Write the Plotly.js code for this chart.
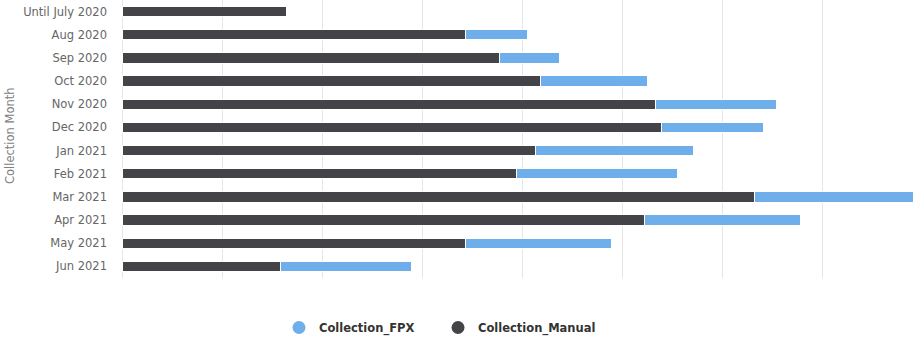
<!DOCTYPE html>
<html>
<head>
<meta charset="utf-8">
<script src="https://cdn.plot.ly/plotly-3.0.1.min.js"></script>
<style>
  html, body { margin: 0; padding: 0; background: #fff; }
  #chart { width: 920px; height: 338px; }
</style>
</head>
<body>
<div id="chart"></div>
<script>
// Monthly collections, split by channel
const months = [
  'Until July 2020', 'Aug 2020', 'Sep 2020', 'Oct 2020', 'Nov 2020', 'Dec 2020',
  'Jan 2021', 'Feb 2021', 'Mar 2021', 'Apr 2021', 'May 2021', 'Jun 2021'
];
const collectionManual = [164, 343, 377, 418, 533, 539, 413, 394, 632, 522, 343, 158];
const collectionFPX    = [0,   62,  60,  107, 121, 102, 158, 161, 159, 156, 146, 131];

const seriesNames = ['Collection_FPX', 'Collection_Manual'];
const colorFPX = '#6eaeea';
const colorManual = '#434348';

const labelFont = '"DejaVu Sans", Verdana, sans-serif';
const barLine = { color: '#ffffff', width: 1 };

const traces = [
  {
    type: 'bar', orientation: 'h', name: seriesNames[1],
    y: months, x: collectionManual,
    marker: { color: colorManual, line: barLine },
    showlegend: false, hoverinfo: 'x+name'
  },
  {
    type: 'bar', orientation: 'h', name: seriesNames[0],
    y: months, x: collectionFPX,
    marker: { color: colorFPX, line: barLine },
    showlegend: false, hoverinfo: 'x+name'
  },
  // round legend markers
  {
    type: 'scatter', mode: 'markers', name: seriesNames[0],
    x: [null], y: [null],
    marker: { color: colorFPX, size: 13, symbol: 'circle' }
  },
  {
    type: 'scatter', mode: 'markers', name: seriesNames[1],
    x: [null], y: [null],
    marker: { color: colorManual, size: 13, symbol: 'circle' }
  }
];

const layout = {
  width: 920,
  height: 338,
  margin: { l: 122, r: 0, t: 0, b: 60, autoexpand: false },
  paper_bgcolor: '#ffffff',
  plot_bgcolor: '#ffffff',
  barmode: 'stack',
  bargap: 0.56,
  font: { family: labelFont, color: '#666666', size: 11.5 },
  xaxis: {
    range: [0, 798],
    dtick: 100,
    tick0: 0,
    showgrid: true,
    gridcolor: '#e6e6e6',
    gridwidth: 1,
    zeroline: true,
    zerolinecolor: '#e6e6e6',
    zerolinewidth: 1,
    showticklabels: false,
    ticks: '',
    showline: false,
    fixedrange: true
  },
  yaxis: {
    type: 'category',
    categoryorder: 'array',
    categoryarray: months,
    autorange: 'reversed',
    showgrid: false,
    zeroline: false,
    showline: false,
    ticks: '',
    ticklabelstandoff: 14,
    tickfont: { family: labelFont, size: 11.5, color: '#666666' },
    fixedrange: true
  },
  legend: {
    orientation: 'h',
    traceorder: 'normal',
    x: 0.396,
    xanchor: 'center',
    y: -0.178,
    yanchor: 'middle',
    entrywidth: 114,
    font: { family: labelFont, size: 11.5, color: '#333333', weight: 'bold' },
    itemclick: false,
    itemdoubleclick: false
  },
  annotations: [
    {
      text: 'Collection Month',
      textangle: -90,
      xref: 'paper', yref: 'paper',
      x: -0.1404, y: 0.514,
      xanchor: 'center', yanchor: 'middle',
      showarrow: false,
      font: { family: labelFont, size: 11.5, color: '#808080' }
    }
  ],
  showlegend: true
};

Plotly.newPlot('chart', traces, layout, { displayModeBar: false, staticPlot: true });
</script>
</body>
</html>
